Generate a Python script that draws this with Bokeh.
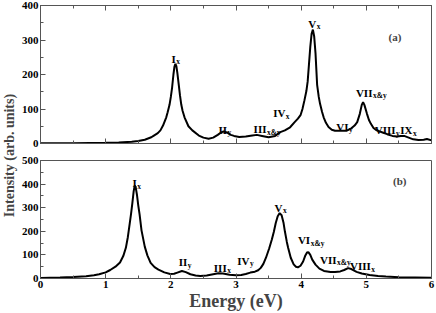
from math import pi
from bokeh.plotting import figure
from bokeh.models import Range1d, SingleIntervalTicker, LinearAxis, Label, ColumnDataSource
from bokeh.layouts import row, column
from bokeh.embed import file_html
from bokeh.resources import INLINE
from bokeh.core.properties import value

# ---------------- data ----------------
energy_a = [0.0, 0.5, 1.0, 1.2, 1.4, 1.5, 1.6, 1.7, 1.74, 1.8, 1.84, 1.88, 1.93, 1.95, 1.98, 2.0,
            2.02, 2.04, 2.055, 2.07, 2.085, 2.1, 2.12, 2.14, 2.16, 2.18, 2.21, 2.27, 2.33, 2.43,
            2.5, 2.58, 2.65, 2.72, 2.77, 2.81, 2.86, 2.92, 2.97, 3.05, 3.15, 3.25, 3.32, 3.4,
            3.5, 3.6, 3.68, 3.75, 3.83, 3.9, 3.95, 3.99, 4.02, 4.05, 4.08, 4.1, 4.12, 4.14,
            4.16, 4.18, 4.2, 4.22, 4.245, 4.27, 4.29, 4.32, 4.345, 4.38, 4.42, 4.47, 4.52,
            4.6, 4.7, 4.77, 4.82, 4.86, 4.9, 4.93, 4.95, 4.97, 5.01, 5.04, 5.07, 5.11, 5.16,
            5.25, 5.32, 5.4, 5.47, 5.53, 5.58, 5.65, 5.72, 5.8, 5.88, 5.93, 6.0]
intensity_a = [0.5, 1, 2, 3, 5, 7, 11, 18, 23, 30, 38, 52, 76, 90, 112, 135,
               163, 200, 222, 231, 224, 205, 173, 140, 113, 95, 76, 50, 38, 23,
               17, 14, 17, 25, 32, 35, 32, 25, 22, 19, 20, 23, 25, 22,
               18, 22, 33, 38, 47, 62, 72, 82, 100, 125, 152, 180, 230, 280,
               318, 330, 310, 262, 170, 135, 115, 92, 76, 60, 48, 40, 37,
               37, 37, 44, 52, 62, 86, 112, 120, 112, 86, 68, 57, 45, 38,
               32, 27, 22, 20, 22, 22, 17, 12, 10, 11, 13, 9]

energy_b = [0.0, 0.3, 0.5, 0.7, 0.82, 0.9, 1.0, 1.07, 1.15, 1.22, 1.27, 1.31, 1.34, 1.37, 1.39,
            1.41, 1.43, 1.446, 1.46, 1.48, 1.5, 1.52, 1.55, 1.6, 1.64, 1.69, 1.75, 1.81, 1.9,
            1.99, 2.05, 2.1, 2.17, 2.23, 2.3, 2.38, 2.45, 2.55, 2.65, 2.73, 2.8, 2.9, 3.0,
            3.08, 3.15, 3.22, 3.29, 3.34, 3.38, 3.42, 3.46, 3.51, 3.55, 3.58, 3.61, 3.64,
            3.67, 3.7, 3.73, 3.75, 3.78, 3.8, 3.84, 3.885, 3.92, 3.95, 3.99, 4.03, 4.06,
            4.09, 4.11, 4.14, 4.17, 4.22, 4.28, 4.35, 4.45, 4.52, 4.6, 4.66, 4.72, 4.77,
            4.85, 4.93, 5.05, 5.18, 5.3, 5.5, 5.75, 6.0]
intensity_b = [2, 4, 6, 10, 14, 18, 26, 36, 50, 68, 95, 130, 175, 235, 275,
               320, 370, 394, 388, 355, 310, 273, 204, 135, 98, 66, 48, 38, 26,
               19, 20, 25, 32, 27, 18, 13, 11, 13, 18, 22, 21, 16, 14,
               15, 19, 25, 29, 35, 45, 62, 88, 128, 165, 197, 235, 264,
               277, 268, 235, 200, 155, 130, 88, 60, 50, 47, 54, 72, 95,
               110, 112, 100, 80, 59, 42, 32, 28, 28, 30, 36, 44, 40,
               28, 21, 15, 11, 8, 5, 4, 3]

peaks_a = ["I", "II", "III", "IV", "V", "VI", "VII", "VIII", "IX"]
subs_a = ["x", "y", "x&y", "x", "x", "y", "x&y", "y", "x"]
peak_x_a = [2.01, 2.73, 3.27, 3.57, 4.11, 4.54, 4.84, 5.13, 5.52]
peak_y_a = [246, 40, 42, 88, 347, 49, 147, 38, 38]

peaks_b = ["I", "II", "III", "IV", "V", "VI", "VII", "VIII"]
subs_b = ["x", "y", "x", "y", "x", "x&y", "x&y", "x"]
peak_x_b = [1.41, 2.12, 2.66, 3.02, 3.59, 3.95, 4.29, 4.75]
peak_y_b = [404, 69, 45, 76, 300, 162, 80, 52]

x_ticks_interval = 1
y_ticks_interval = 100

# ---------------- styling ----------------
FONT = "Liberation Serif"
FRAME = "#555555"
CHAR_W = {"I": 0.389, "V": 0.722, "X": 0.722}
LAB_SIZE = 11
LEFT_W = 18


def style_axis(ax, interval, show_labels=True):
    ax.ticker = SingleIntervalTicker(interval=interval, num_minor_ticks=2)
    ax.major_tick_in = 5
    ax.major_tick_out = 0
    ax.minor_tick_in = 3
    ax.minor_tick_out = 0
    ax.major_tick_line_color = FRAME
    ax.minor_tick_line_color = FRAME
    ax.axis_line_color = FRAME
    ax.major_label_text_font = FONT
    ax.major_label_text_font_style = "bold"
    ax.major_label_text_color = "black"
    ax.major_label_text_font_size = "11px"
    if show_labels:
        ax.major_label_standoff = 2
    else:
        ax.major_label_overrides = {i: "" for i in range(0, 7)}
        ax.major_label_standoff = 0


def make_panel(height, ymax, energy, intensity, peaks, subs, px, py, tag, tag_x, tag_y,
               bottom_labels, top_border, bottom_border, top_axis):
    p = figure(width=436 - LEFT_W, height=height, x_range=Range1d(0, 6), y_range=Range1d(0, ymax),
               toolbar_location=None, output_backend="svg",
               min_border_left=18, min_border_right=5,
               min_border_top=top_border, min_border_bottom=bottom_border,
               outline_line_color=FRAME, outline_line_width=1,
               background_fill_color="white", border_fill_color="white")
    p.grid.visible = False
    style_axis(p.xaxis[0], x_ticks_interval, show_labels=bottom_labels)
    style_axis(p.yaxis[0], y_ticks_interval, show_labels=True)
    if top_axis:
        ax = LinearAxis()
        style_axis(ax, x_ticks_interval, show_labels=False)
        p.add_layout(ax, "above")
    p.line(energy, intensity, line_color="black", line_width=2)

    offs = [sum(CHAR_W[c] for c in s) * LAB_SIZE + 0.5 for s in peaks]
    src = ColumnDataSource(dict(x=px, y=py, t=peaks, s=subs, off=offs))
    p.text(x="x", y="y", text="t", source=src, text_font=value(FONT),
           text_font_style="bold", text_font_size=f"{LAB_SIZE}px",
           text_align="left", text_baseline="alphabetic", text_color="black")
    p.text(x="x", y="y", text="s", x_offset="off", y_offset=3, source=src,
           text_font=value(FONT), text_font_style="bold", text_font_size="7.5px",
           text_align="left", text_baseline="alphabetic", text_color="black")
    p.add_layout(Label(x=tag_x, y=tag_y, text=tag, text_font=FONT, text_font_style="bold",
                       text_font_size="11px", text_baseline="alphabetic"))
    return p


top = make_panel(150, 400, energy_a, intensity_a, peaks_a, subs_a, peak_x_a, peak_y_a,
                 "(a)", 5.34, 310, False, 5, 7, True)
bot = make_panel(163, 500, energy_b, intensity_b, peaks_b, subs_b, peak_x_b, peak_y_b,
                 "(b)", 5.41, 413, True, 10, 32, False)
bot.xaxis[0].axis_label = "Energy (eV)"
bot.xaxis[0].axis_label_text_font = FONT
bot.xaxis[0].axis_label_text_font_style = "bold"
bot.xaxis[0].axis_label_text_font_size = "18px"
bot.xaxis[0].axis_label_standoff = 0

lab = figure(width=LEFT_W, height=313, x_range=Range1d(0, 1), y_range=Range1d(0, 1),
             x_axis_location=None, y_axis_location=None, toolbar_location=None,
             output_backend="svg", min_border=0, outline_line_color=None,
             background_fill_color="white", border_fill_color="white")
lab.grid.visible = False
lab.add_layout(Label(x=8.5, y=158, x_units="screen", y_units="screen",
                     text="Intensity (arb. units)", angle=pi / 2,
                     text_align="center", text_baseline="middle",
                     text_font=FONT, text_font_style="bold", text_font_size="14px"))

layout = row(lab, column(top, bot))

open("out.html", "w").write(file_html(layout, INLINE))
